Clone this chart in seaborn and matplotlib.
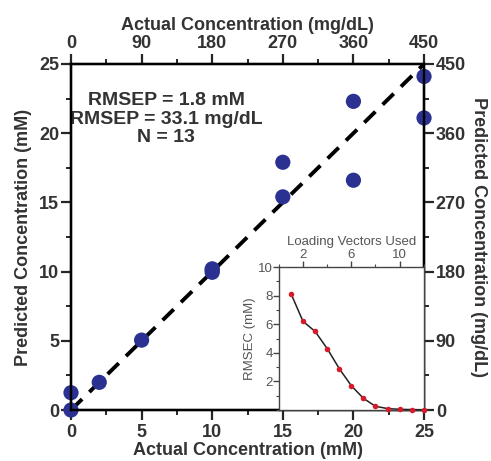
import matplotlib
matplotlib.use('Agg')
import matplotlib.pyplot as plt
from matplotlib.ticker import MultipleLocator
import seaborn as sns
import pandas as pd

# main calibration data (mM)
actual = [0, 0, 2, 5, 10, 10, 10, 15, 15, 20, 20, 25, 25]
predicted = [0, 1.25, 2.0, 5.05, 9.95, 10.1, 10.2, 15.4, 17.9, 16.6, 22.3, 24.1, 21.1]
ideal = [0, 25]

# inset: RMSEC vs loading vectors
vectors = [1, 2, 3, 4, 5, 6, 7, 8, 9, 10, 11, 12]
rmsec = [8.15, 6.2, 5.5, 4.3, 2.9, 1.7, 0.82, 0.26, 0.1, 0.05, 0.03, 0.02]

MGDL = 18.0  # mM -> mg/dL

sns.set_theme(style='ticks')
plt.rcParams['font.family'] = ['Liberation Sans', 'DejaVu Sans']
txt = '#333333'
fs = 13

df = pd.DataFrame({'actual': actual, 'predicted': predicted})
df_ideal = pd.DataFrame({'x': ideal, 'y': ideal})
df_in = pd.DataFrame({'vectors': vectors, 'rmsec': rmsec})

fig = plt.figure(figsize=(4.91, 4.61), dpi=100)
ax = fig.add_axes([0.1446, 0.1106, 0.719, 0.7506])

sns.lineplot(data=df_ideal, x='x', y='y', ax=ax, color='black', lw=2.8,
             linestyle=(0, (4, 2.6)), zorder=2)
sns.scatterplot(data=df, x='actual', y='predicted', ax=ax, color='#2B3190',
                s=120, edgecolor='none', zorder=3, clip_on=False)

ax.set_xlim(0, 25)
ax.set_ylim(0, 25)
ax.xaxis.set_major_locator(MultipleLocator(5))
ax.xaxis.set_minor_locator(MultipleLocator(2.5))
ax.yaxis.set_major_locator(MultipleLocator(5))
ax.yaxis.set_minor_locator(MultipleLocator(2.5))
ax.set_xlabel('Actual Concentration (mM)', fontsize=fs, fontweight='bold', color=txt, labelpad=1)
ax.set_ylabel('Predicted Concentration (mM)', fontsize=fs, fontweight='bold', color=txt, labelpad=5)

# secondary axes in mg/dL
axt = ax.twiny()
axt.set_xlim(0, 25 * MGDL)
axt.xaxis.set_major_locator(MultipleLocator(90))
axt.xaxis.set_minor_locator(MultipleLocator(45))
axt.set_xlabel('Actual Concentration (mg/dL)', fontsize=fs, fontweight='bold', color=txt, labelpad=4)

axr = ax.twinx()
axr.set_ylim(0, 25 * MGDL)
axr.yaxis.set_major_locator(MultipleLocator(90))
axr.yaxis.set_minor_locator(MultipleLocator(45))
axr.set_ylabel('Predicted Concentration (mg/dL)', fontsize=fs, fontweight='bold', color=txt,
               rotation=270, labelpad=15)

for a in (ax, axt, axr):
    for sp in a.spines.values():
        sp.set_visible(True)
        sp.set_linewidth(1.6)
        sp.set_color('black')
    a.tick_params(which='major', direction='out', length=7, width=1.6, labelsize=fs,
                  labelcolor=txt, pad=1.5)
    a.tick_params(which='minor', direction='out', length=3.5, width=1.4)
    for lab in a.get_xticklabels() + a.get_yticklabels():
        lab.set_fontweight('bold')
ax.tick_params(axis='x', which='major', pad=3)

ax.text(0.27, 0.918, 'RMSEP = 1.8 mM\nRMSEP = 33.1 mg/dL\nN = 13', transform=ax.transAxes,
        ha='center', va='top', fontsize=14, fontweight='bold', color=txt, linespacing=1.12)

# inset
axi = fig.add_axes([0.568, 0.1106, 0.295, 0.31])
sns.lineplot(data=df_in, x='vectors', y='rmsec', ax=axi, color='#222222', lw=1.1,
             marker='o', markersize=4, markerfacecolor='#D7192A', markeredgecolor='none',
             clip_on=False, zorder=3)
axi.set_xlim(0, 12)
axi.set_ylim(0, 10)
axi.xaxis.tick_top()
axi.xaxis.set_label_position('top')
axi.set_xticks([2, 6, 10])
axi.xaxis.set_minor_locator(MultipleLocator(2))
axi.set_yticks([2, 4, 6, 8, 10])
axi.yaxis.set_minor_locator(MultipleLocator(1))
axi.set_xlabel('Loading Vectors Used', fontsize=9.5, color='#555555', labelpad=3)
axi.set_ylabel('RMSEC (mM)', fontsize=9.5, color='#555555', labelpad=1)
for sp in axi.spines.values():
    sp.set_visible(True)
    sp.set_linewidth(1.0)
    sp.set_color('#444444')
axi.tick_params(which='major', direction='out', length=4, width=1.0, labelsize=9.5,
                labelcolor='#555555', pad=0.5, colors='#444444')
axi.tick_params(which='minor', direction='out', length=2.5, width=0.8, colors='#444444')
axi.tick_params(axis='x', which='both', top=True, bottom=False)

fig.savefig('out.png', dpi=100)
